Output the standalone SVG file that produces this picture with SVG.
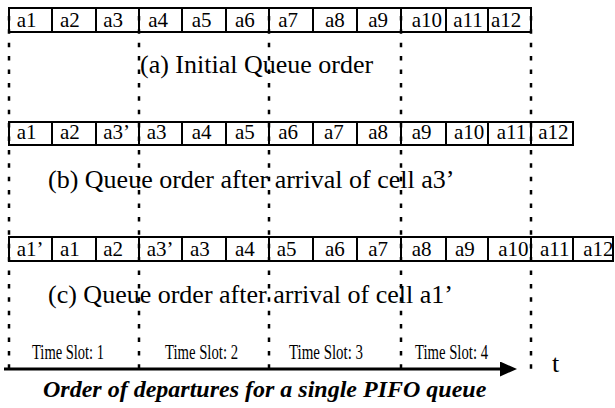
<svg xmlns="http://www.w3.org/2000/svg" width="615" height="408" viewBox="0 0 615 408">
<style>
.cell{fill:#fff;stroke:#000;stroke-width:2}
.ct{font-family:"Liberation Serif","Times New Roman",serif;font-size:21px;fill:#000}
.cap{font-family:"Liberation Serif","Times New Roman",serif;font-size:26px;fill:#000}
.ts{font-family:"Liberation Serif","Times New Roman",serif;font-size:20px;fill:#000}
.dash{stroke:#000;stroke-width:2.5;stroke-dasharray:4.5 8.9;fill:none}
</style>
<defs>
<marker id="ah" viewBox="0 0 17 15" refX="0" refY="7.5" markerWidth="17" markerHeight="15" markerUnits="userSpaceOnUse" orient="auto">
<polygon points="0,0 17,7.5 0,15" fill="#000"/>
</marker>
</defs>
<rect width="615" height="408" fill="#fff"/>

<g id="row-a">
<g id="a-a1"><rect class="cell" x="9" y="8" width="43" height="24"/><text class="ct" x="16.7" y="27">a1</text></g>
<g id="a-a2"><rect class="cell" x="52" y="8" width="44" height="24"/><text class="ct" x="60" y="27">a2</text></g>
<g id="a-a3"><rect class="cell" x="96" y="8" width="43" height="24"/><text class="ct" x="103.3" y="27">a3</text></g>
<g id="a-a4"><rect class="cell" x="139" y="8" width="43" height="24"/><text class="ct" x="148.3" y="27">a4</text></g>
<g id="a-a5"><rect class="cell" x="182" y="8" width="44" height="24"/><text class="ct" x="191.7" y="27">a5</text></g>
<g id="a-a6"><rect class="cell" x="226" y="8" width="43" height="24"/><text class="ct" x="235" y="27">a6</text></g>
<g id="a-a7"><rect class="cell" x="269" y="8" width="44" height="24"/><text class="ct" x="278.3" y="27">a7</text></g>
<g id="a-a8"><rect class="cell" x="313" y="8" width="44" height="24"/><text class="ct" x="325" y="27">a8</text></g>
<g id="a-a9"><rect class="cell" x="357" y="8" width="44" height="24"/><text class="ct" x="368.3" y="27">a9</text></g>
<g id="a-a10"><rect class="cell" x="401" y="8" width="45" height="24"/><text class="ct" x="411.7" y="27">a10</text></g>
<g id="a-a11"><rect class="cell" x="446" y="8" width="42" height="24"/><text class="ct" x="453.3" y="27">a11</text></g>
<g id="a-a12"><rect class="cell" x="488" y="8" width="43" height="24"/><text class="ct" x="491" y="27">a12</text></g>
</g>

<g id="row-b">
<g id="b-a1"><rect class="cell" x="9" y="122" width="43" height="23"/><text class="ct" x="16.7" y="139">a1</text></g>
<g id="b-a2"><rect class="cell" x="52" y="122" width="44" height="23"/><text class="ct" x="60" y="139">a2</text></g>
<g id="b-a3p"><rect class="cell" x="96" y="122" width="43" height="23"/><text class="ct" x="103.3" y="139">a3’</text></g>
<g id="b-a3"><rect class="cell" x="139" y="122" width="43" height="23"/><text class="ct" x="146.7" y="139">a3</text></g>
<g id="b-a4"><rect class="cell" x="182" y="122" width="44" height="23"/><text class="ct" x="191.7" y="139">a4</text></g>
<g id="b-a5"><rect class="cell" x="226" y="122" width="43" height="23"/><text class="ct" x="235" y="139">a5</text></g>
<g id="b-a6"><rect class="cell" x="269" y="122" width="44" height="23"/><text class="ct" x="278.3" y="139">a6</text></g>
<g id="b-a7"><rect class="cell" x="313" y="122" width="44" height="23"/><text class="ct" x="324" y="139">a7</text></g>
<g id="b-a8"><rect class="cell" x="357" y="122" width="44" height="23"/><text class="ct" x="368.3" y="139">a8</text></g>
<g id="b-a9"><rect class="cell" x="401" y="122" width="45" height="23"/><text class="ct" x="411.7" y="139">a9</text></g>
<g id="b-a10"><rect class="cell" x="446" y="122" width="42" height="23"/><text class="ct" x="454" y="139">a10</text></g>
<g id="b-a11"><rect class="cell" x="488" y="122" width="43" height="23"/><text class="ct" x="496.7" y="139">a11</text></g>
<g id="b-a12"><rect class="cell" x="531" y="122" width="42" height="23"/><text class="ct" x="538.3" y="139">a12</text></g>
</g>

<g id="row-c">
<g id="c-a1p"><rect class="cell" x="9" y="237" width="43" height="24"/><text class="ct" x="16.7" y="256">a1’</text></g>
<g id="c-a1"><rect class="cell" x="52" y="237" width="44" height="24"/><text class="ct" x="60" y="256">a1</text></g>
<g id="c-a2"><rect class="cell" x="96" y="237" width="43" height="24"/><text class="ct" x="103.3" y="256">a2</text></g>
<g id="c-a3p"><rect class="cell" x="139" y="237" width="43" height="24"/><text class="ct" x="146.7" y="256">a3’</text></g>
<g id="c-a3"><rect class="cell" x="182" y="237" width="44" height="24"/><text class="ct" x="190" y="256">a3</text></g>
<g id="c-a4"><rect class="cell" x="226" y="237" width="43" height="24"/><text class="ct" x="235" y="256">a4</text></g>
<g id="c-a5"><rect class="cell" x="269" y="237" width="44" height="24"/><text class="ct" x="276.7" y="256">a5</text></g>
<g id="c-a6"><rect class="cell" x="313" y="237" width="44" height="24"/><text class="ct" x="325" y="256">a6</text></g>
<g id="c-a7"><rect class="cell" x="357" y="237" width="44" height="24"/><text class="ct" x="368.3" y="256">a7</text></g>
<g id="c-a8"><rect class="cell" x="401" y="237" width="45" height="24"/><text class="ct" x="411.7" y="256">a8</text></g>
<g id="c-a9"><rect class="cell" x="446" y="237" width="42" height="24"/><text class="ct" x="455" y="256">a9</text></g>
<g id="c-a10"><rect class="cell" x="488" y="237" width="43" height="24"/><text class="ct" x="498.3" y="256">a10</text></g>
<g id="c-a11"><rect class="cell" x="531" y="237" width="42" height="24"/><text class="ct" x="540" y="256">a11</text></g>
<g id="c-a12"><rect class="cell" x="573" y="237" width="40" height="24"/><text class="ct" x="583.3" y="256">a12</text></g>
</g>

<g id="labels">
<text class="cap" x="140" y="73">(a) Initial Queue order</text>
<text class="cap" x="48" y="188">(b) Queue order after arrival of cell a3’</text>
<text class="cap" x="48" y="303">(c) Queue order after arrival of cell a1’</text>
<text class="ts" x="32" y="359" textLength="72" lengthAdjust="spacingAndGlyphs">Time Slot: 1</text>
<text class="ts" x="165" y="359" textLength="73" lengthAdjust="spacingAndGlyphs">Time Slot: 2</text>
<text class="ts" x="289" y="359" textLength="74" lengthAdjust="spacingAndGlyphs">Time Slot: 3</text>
<text class="ts" x="415" y="359" textLength="73" lengthAdjust="spacingAndGlyphs">Time Slot: 4</text>
<text class="cap" x="552" y="372">t</text>
<text x="43" y="397" font-family="Liberation Serif,'Times New Roman',serif" font-size="24" font-weight="bold" font-style="italic">Order of departures for a single PIFO queue</text>
</g>

<g id="connectors">
<line class="dash" x1="9" y1="15.9" x2="9" y2="370"/>
<line class="dash" x1="139" y1="15.9" x2="139" y2="370"/>
<line class="dash" x1="269" y1="15.9" x2="269" y2="370"/>
<line class="dash" x1="401" y1="15.9" x2="401" y2="370"/>
<line class="dash" x1="531" y1="15.9" x2="531" y2="370"/>
<line x1="4" y1="369" x2="500" y2="369" stroke="#000" stroke-width="3" marker-end="url(#ah)"/>
</g>
</svg>
